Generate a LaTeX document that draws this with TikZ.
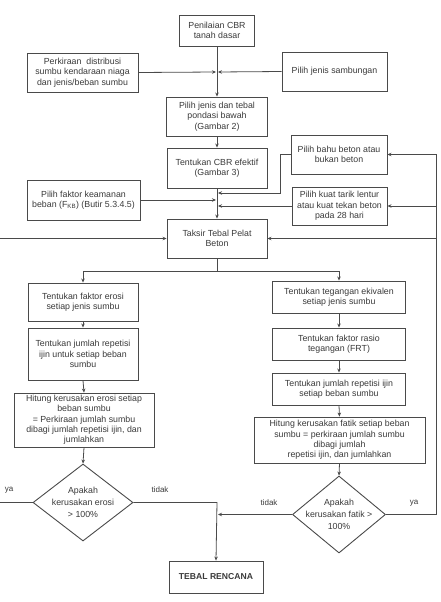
\documentclass[tikz,border=0pt]{standalone}
\usepackage{fontspec}
\setmainfont{Liberation Sans}
\usetikzlibrary{shapes.geometric,arrows.meta}
\definecolor{ln}{HTML}{4A4A4A}
\definecolor{tx}{HTML}{3A3A3A}
\tikzset{
  box/.style={draw=ln, line width=0.9pt, rectangle, inner sep=1pt, align=center, text=tx,
    font=\fontsize{8.8}{10.3}\selectfont},
  dia/.style={draw=ln, line width=0.9pt, diamond, inner sep=0pt},
  diatext/.style={align=center, text=tx, inner sep=0pt, font=\fontsize{8.8}{12}\selectfont},
  lab/.style={text=tx, font=\fontsize{8}{9}\selectfont, inner sep=0pt},
  con/.style={draw=ln, line width=0.8pt},
  arr/.style={con, -{Stealth[length=4pt,width=3.5pt]}},
}
\begin{document}
\begin{tikzpicture}[x=1pt,y=-1pt]
\useasboundingbox (0,0) rectangle (440,602);
\fill[white] (0,0) rectangle (440,602);
% nodes
\node[box, minimum width=75, minimum height=31] (pen) at (217,30.5) {Penilaian CBR\\tanah dasar};
\node[box, minimum width=111, minimum height=39] (perk) at (82.5,72.5) {Perkiraan\ \ distribusi\\sumbu kendaraan niaga\\dan jenis/beban sumbu};
\node[box, minimum width=105, minimum height=39] (samb) at (334.5,71.5) {Pilih jenis sambungan};
\node[box, minimum width=101, minimum height=39] (pond) at (217,116.5) {Pilih jenis dan tebal\\pondasi bawah\\(Gambar 2)};
\node[box, minimum width=100, minimum height=40] (cbr) at (217,168) {Tentukan CBR efektif\\(Gambar 3)};
\node[box, minimum width=96, minimum height=39] (bahu) at (339,154.5) {Pilih bahu beton atau\\bukan beton};
\node[box, minimum width=113, minimum height=40] (faktor) at (83.5,200) {Pilih faktor keamanan\\beban (F$_{\mathrm{KB}}$) (Butir 5.3.4.5)};
\node[box, minimum width=95, minimum height=38] (kuat) at (339.5,206) {Pilih kuat tarik lentur\\atau kuat tekan beton\\pada 28 hari};
\node[box, minimum width=100, minimum height=39] (taksir) at (217,238.5) {Taksir Tebal Pelat\\Beton};
\node[box, minimum width=110, minimum height=38] (er1) at (83,302) {Tentukan faktor erosi\\setiap jenis sumbu};
\node[box, minimum width=110, minimum height=52] (er2) at (83,354) {Tentukan jumlah repetisi\\ijin untuk setiap beban\\sumbu};
\node[box, minimum width=140, minimum height=54] (er3) at (84,420) {Hitung kerusakan erosi setiap\\beban sumbu\\= Perkiraan jumlah sumbu\\dibagi jumlah repetisi ijin, dan\\jumlahkan};
\node[dia, minimum width=100, minimum height=77] (dE) at (83,502.5) {};
\node[diatext] (dEt) at (dE.center) {Apakah\\kerusakan erosi\\> 100\%};
\node[box, minimum width=133, minimum height=32] (teg) at (339,297) {Tentukan tegangan ekivalen\\setiap jenis sumbu};
\node[box, minimum width=133, minimum height=32] (frt) at (339,344) {Tentukan faktor rasio\\tegangan (FRT)};
\node[box, minimum width=133, minimum height=32] (rep) at (339,389) {Tentukan jumlah repetisi ijin\\setiap beban sumbu};
\node[box, minimum width=171, minimum height=46] (fat) at (339.5,440) {Hitung kerusakan fatik setiap beban\\sumbu = perkiraan jumlah sumbu\\dibagi jumlah\\repetisi ijin, dan jumlahkan};
\node[dia, minimum width=93, minimum height=77] (dF) at (339,514.5) {};
\node[diatext] (dFt) at (dF.center) {Apakah\\kerusakan fatik >\\100\%};
\node[box, minimum width=94, minimum height=32, font=\fontsize{8.6}{10}\selectfont\bfseries] (tebal) at (216,577) {TEBAL RENCANA};
% labels
\node[lab] (lya1) at (9,490) {ya};
\node[lab] (ltd1) at (160,490) {tidak};
\node[lab] (ltd2) at (269,503) {tidak};
\node[lab] (lya2) at (414,503) {ya};
% coordinates
\coordinate (j1) at (217,72);
\coordinate (j2) at (217,271);
\coordinate (jr) at (436,514.5);
\coordinate (jl) at (-3,502.5);
% connectors top
\draw[arr] (pen.south) -- (pond.north);
\draw[arr] (perk.east) -- ([xshift=-1]j1);
\draw[arr] (samb.west) -- ([xshift=1]j1);
\draw[arr] (pond.south) -- (cbr.north);
\draw[arr] (cbr.south) -- (taksir.north);
\draw[arr] (bahu.west) -- (280,154.5) -- (280,193) -- (218,193);
\draw[arr] (faktor.east) -- (216,200);
\draw[arr] (kuat.west) -- (218,206);
% split
\draw[con] (taksir.south) -- (j2);
\draw[con] (83,271) -- (339,271);
\draw[arr] (83,271) -- (er1.north);
\draw[arr] (339,271) -- (teg.north);
% left column
\draw[arr] (er1.south) -- (er2.north);
\draw[arr] (er2.south) -- (er3.north);
\draw[arr] (er3.south) -- (dE.north);
\draw[arr] (dE.east) -- (217,502.5) -- (tebal.north);
\draw[arr] (dE.west) -- (jl) -- (-3,238.5) -- (taksir.west);
% right column
\draw[arr] (teg.south) -- (frt.north);
\draw[arr] (frt.south) -- (rep.north);
\draw[arr] (rep.south) -- (fat.north);
\draw[arr] (fat.south) -- (dF.north);
\draw[arr] (dF.west) -- (218,514.5);
\draw[arr] (dF.east) -- (jr) -- (436,154.5) -- (bahu.east);
\draw[arr] (436,206) -- (kuat.east);
\draw[arr] (436,238.5) -- (taksir.east);
\end{tikzpicture}
\end{document}
